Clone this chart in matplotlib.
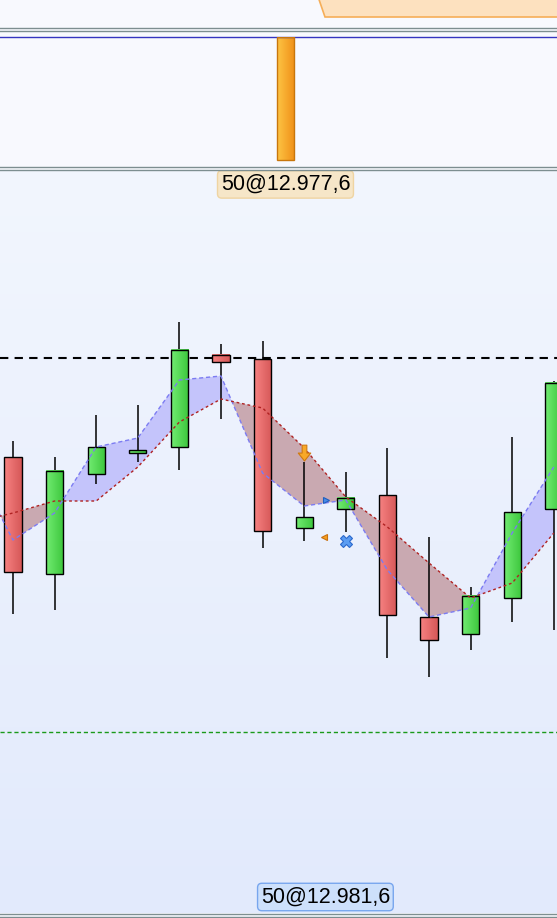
import numpy as np
import matplotlib.pyplot as plt
from matplotlib.colors import LinearSegmentedColormap
from matplotlib.lines import Line2D
from matplotlib.patches import Polygon

plt.rcParams['font.family'] = ['Liberation Sans', 'DejaVu Sans']

# candles (index, open, high, low, close)
idx = [1, 2, 3, 4, 5, 6, 7, 8, 9, 10, 11, 12, 13, 14]
opens = [12977.15, 12971.30, 12976.30, 12977.35, 12977.65, 12982.25, 12982.05,
         12973.60, 12974.55, 12975.25, 12969.15, 12968.30, 12970.10, 12974.55]
highs = [12977.95, 12977.15, 12979.25, 12979.75, 12983.90, 12982.80, 12982.95,
         12976.90, 12976.40, 12977.60, 12973.15, 12970.65, 12978.15, 12980.95]
lows = [12969.30, 12969.50, 12975.80, 12976.90, 12976.50, 12979.05, 12972.60,
        12972.95, 12973.40, 12967.10, 12966.15, 12967.50, 12968.90, 12968.50]
closes = [12971.40, 12976.45, 12977.65, 12977.50, 12982.50, 12981.90, 12973.45,
          12974.15, 12975.10, 12969.25, 12968.00, 12970.20, 12974.40, 12980.85]

# two moving averages (index 0 is just left of the view)
ma_idx = [0, 1, 2, 3, 4, 5, 6, 7, 8, 9, 10, 11, 12, 13, 14]
ma_fast = [12977.00, 12973.00, 12974.35, 12977.65, 12978.10, 12981.00, 12981.20, 12976.35,
           12974.70, 12975.00, 12971.50, 12969.15, 12969.60, 12973.35, 12976.65]
ma_slow = [12973.85, 12974.35, 12974.95, 12974.95, 12976.65, 12978.90, 12980.05, 12979.60,
           12977.60, 12975.15, 12973.65, 12971.85, 12970.10, 12970.85, 12973.35]

high_line = 12982.1
low_line = 12963.4

# trade
trade_idx = 7.55
trade_qty = 50
trade_label_top = "50@12.977,6"
trade_label_bottom = "50@12.981,6"
bottom_label_idx = 8.51
signal_down = (8, 12977.35)
entry_mark = (8.52, 12975.0)
exit_mark = (8.48, 12973.15)
cross_mark = (9, 12972.95)

W, H = 557, 918
def fy(px):
    return 1 - px / H

xlim = (0.6875, 14.077)
body_w = 0.41

fig = plt.figure(figsize=(5.57, 9.18), dpi=100)
fig.patch.set_facecolor('#f8f9fe')

red_cm = LinearSegmentedColormap.from_list('r', ['#f78282', '#d65858'])
green_cm = LinearSegmentedColormap.from_list('g', ['#72ec72', '#3cc63c'])
orange_cm = LinearSegmentedColormap.from_list('o', ['#fdc444', '#f09018'])
bg_cm = LinearSegmentedColormap.from_list('bg', ['#e2eafc', '#f2f6fe'])
hgrad = np.linspace(0, 1, 32).reshape(1, -1)

# top panel with the trade bar
ax_top = fig.add_axes([0, fy(166), 1, (166 - 37) / H])
ax_top.set_facecolor('#f8f9fe')
ax_top.imshow(hgrad, extent=[trade_idx - body_w / 2, trade_idx + body_w / 2, 0, trade_qty],
              cmap=orange_cm, aspect='auto', interpolation='bilinear', zorder=2)
ax_top.bar(trade_idx, trade_qty, width=body_w, facecolor='none', edgecolor='#c8760c', lw=1, zorder=3)
ax_top.set_xlim(*xlim)
ax_top.set_ylim(-2.5, 50)
for s in ['left', 'right', 'bottom']:
    ax_top.spines[s].set_visible(False)
ax_top.spines['top'].set_color('#3535c0')
ax_top.spines['top'].set_linewidth(1)
ax_top.set_xticks([])
ax_top.set_yticks([])

# main price panel
ax = fig.add_axes([0, fy(913), 1, (913 - 170) / H])
ax.axis('off')
ax.imshow(np.linspace(0, 1, 256).reshape(-1, 1), extent=[0, 1, 0, 1], transform=ax.transAxes,
          origin='lower', aspect='auto', cmap=bg_cm, zorder=0)

fast = np.array(ma_fast)
slow = np.array(ma_slow)
ax.fill_between(ma_idx, fast, slow, where=fast >= slow, interpolate=True,
                color='#c4c4fb', lw=0, zorder=1)
ax.fill_between(ma_idx, fast, slow, where=fast <= slow, interpolate=True,
                color='#c9a9b1', lw=0, zorder=1)

ax.vlines(idx, lows, highs, color='black', lw=1.1, zorder=3)
for i, o, c in zip(idx, opens, closes):
    lo, hi = min(o, c), max(o, c)
    cm = green_cm if c >= o else red_cm
    ax.imshow(hgrad, extent=[i - body_w / 2, i + body_w / 2, lo, hi], cmap=cm,
              aspect='auto', interpolation='bilinear', zorder=4)
body_lo = [min(o, c) for o, c in zip(opens, closes)]
body_h = [abs(c - o) for o, c in zip(opens, closes)]
ax.bar(idx, body_h, bottom=body_lo, width=body_w, facecolor='none', edgecolor='black', lw=1.0, zorder=5)

ax.plot(ma_idx, ma_fast, color='#7c7cf2', lw=1, dashes=(3, 2), zorder=6)
ax.plot(ma_idx, ma_slow, color='#b02222', lw=1, dashes=(2, 2), zorder=6)

ax.axhline(high_line, color='black', lw=1.5, dashes=(4, 3), zorder=2)
ax.axhline(low_line, color='#1a9a1a', lw=1, dashes=(3, 2), zorder=2)

arrow = [(-0.28, 1), (0.28, 1), (0.28, 0.05), (0.75, 0.05), (0, -0.9), (-0.75, 0.05), (-0.28, 0.05), (-0.28, 1)]
ax.plot(*signal_down, marker=arrow, ms=12, mfc='#f8a828', mec='#d07a10', mew=0.8, zorder=7)
ax.plot(*entry_mark, marker='>', ms=5, mfc='#4a8ce8', mec='#1f5fc0', mew=0.8, zorder=7)
ax.plot(*exit_mark, marker='<', ms=5, mfc='#f6a020', mec='#c87010', mew=0.8, zorder=7)
ax.plot(*cross_mark, marker='X', ms=9, mfc='#5a9cf2', mec='#2a68cc', mew=0.8, zorder=7)

ax.set_xlim(*xlim)
ax.set_ylim(12954.35, 12991.5)

ax.text(trade_idx, 12990.78, trade_label_top, ha='center', va='center', fontsize=15.5, zorder=8,
        bbox=dict(boxstyle='round,pad=0.15,rounding_size=0.2', fc='#f6e6c8', ec='#efd4a2', lw=1))
ax.text(bottom_label_idx, 12955.15, trade_label_bottom, ha='center', va='center', fontsize=15.5, zorder=8,
        bbox=dict(boxstyle='round,pad=0.15,rounding_size=0.2', fc='#cde0fb', ec='#78a6ee', lw=1))

# panel separators and tab
for py in [27.5, 30.5, 166.5, 169.5, 913.5, 916.5]:
    fig.add_artist(Line2D([0, 1], [fy(py)] * 2, color='#7d8e90', lw=1))
fig.add_artist(Polygon([(316 / W, 1.01), (325 / W, fy(17)), (1.01, fy(17)), (1.01, 1.01)],
                       closed=True, fc='#fde1bf', ec='#f6ae58', lw=1.2, transform=fig.transFigure))

fig.savefig('out.png', dpi=100, facecolor=fig.get_facecolor())
